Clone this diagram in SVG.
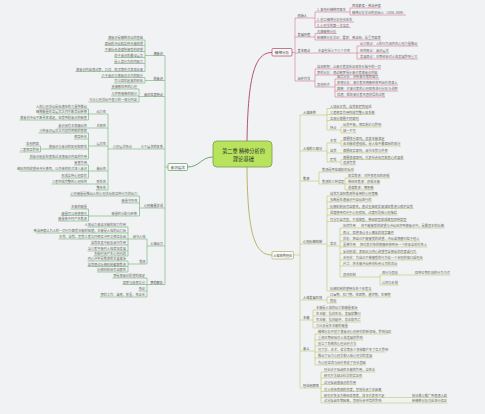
<svg xmlns="http://www.w3.org/2000/svg" width="485" height="414" viewBox="0 0 485 414">
<style>
text{font-family:"Noto Sans CJK SC","Noto Sans",sans-serif;font-size:3.2px;fill:#6a6a6a}
.e{text-anchor:end}
.m{text-anchor:middle}
.k{fill:#4d4d4d}
.b1{font-size:3.6px;fill:#444}
.c{font-size:5.2px;fill:#2f2f2f}
.g,.r,.o{fill:none;stroke-width:.6}
.g{stroke:#6fae6f}
.r{stroke:#d27a92}
.o{stroke:#bec66c}
.box{fill:#fafafa;stroke-width:.7}
</style>
<rect width="485" height="414" fill="#f1f2f4"/>
<g id="connectors">
<path d="M187.5,167 C200,167 201,157 213,157" stroke="#5d9f5d" stroke-width=".9" fill="none"/>
<path d="M247,141 C248,75 255,52.5 272,52.5" stroke="#a8455f" stroke-width=".9" fill="none"/>
<path d="M247,167 C247.5,235 255,255 272,255" stroke="#b2ae5a" stroke-width=".9" fill="none"/>
<path class="g" d="M165,55.5V284.5 M165,167H168
M145,55.5H165 M145,40V71.5 M107.5,40H145 M104.5,45.5H145 M104.5,51.5H145 M114,57.5H145 M114,63.5H145 M75.5,71.5H145
M145,80.5H165 M145,77.5V83 M101,77.5H145 M114,83H145
M139,96.5H165 M139,89V102 M111,89H139 M111,96H139 M88.5,102H139
M108,149H165 M108,114V190
M88.5,114H108 M88.5,109V120 M38.5,109H88.5 M38.5,114H88.5 M19.5,120H88.5
M57.5,128H108
M88.5,146H108 M88.5,133V159 M38.5,133H88.5 M74,139H88.5 M40.5,149H88.5 M40.5,146V152 M26,146H40.5 M19.5,152H40.5 M29,159H88.5
M88.5,171H108 M88.5,165V178 M74,165H88.5 M19.5,171H88.5 M61,178H88.5
M51.5,184H108
M96,190H108
M139.5,208H165 M139.5,196V216 M70,196H139.5 M121,203H139.5 M88.5,216H139.5 M88.5,209V221 M70.5,209H88.5 M61,215.5H88.5 M58,221H88.5
M147,246H165 M147,239V264 M128,239H147 M128,227V256 M87.5,227H128 M36,233H128 M58.5,239H128 M90.5,245H128 M87.5,251H128 M93.5,256H128 M128,264H147 M128,261V272 M87.5,261H128 M87.5,266.5H128 M97,272H128
M147,284.5H165 M147,278V297 M112.5,278H147 M122.5,284.5H147 M138.5,291H147 M100,297H147"/>
<path class="r" d="M292,52.5H295 M295,18V81
M295,18H315 M315,12V27.5 M315,12H350 M350,8V15 M350,8H381 M350,15H406 M315,22H354 M315,27.5H350.5
M295,37H315 M315,33.5V40 M315,33.5H336.5 M315,40H381
M295,53H357 M357,46V59 M357,46H418 M357,53H389 M357,59H418
M295,81H315 M315,69V87 M315,69H381 M315,75H378 M315,87H335 M335,79V97 M335,79H379 M335,85H398 M335,91H398 M335,97H385"/>
<path class="o" d="M293.5,255H300 M300,115V388
M300,115H327 M327,108.5V130 M327,108.5H369 M327,114.5H375 M327,120.5H359 M327,130H341 M341,127V133 M341,127H381.5 M341,133H356
M300,151H327 M327,143V162 M327,143H341 M341,140.5V146 M341,140.5H385 M341,146H401 M327,153H388 M327,162H341 M341,159.5V165 M341,159.5H404 M341,165H356
M300,181H319 M319,172V184 M319,172H354 M319,184H345 M345,178V190 M345,178H390 M345,184H380 M345,190H374
M300,244H327 M327,196V291 M327,196H378 M327,202H372 M327,208.5H413.5 M327,215H397.5 M327,221.5H407 M327,246H340 M340,228V277 M340,228H444.5 M340,234.5H394.5 M340,241H420 M340,247H427.5 M340,253.5H417 M340,260H423 M340,266H397.5 M340,277H380 M380,275V285 M380,275H450.5 M380,285H398.5 M327,291H372
M300,300H327 M327,297V303 M327,297H391 M327,303H337
M300,320H313 M313,310V328 M313,310H358 M313,316H361 M313,322H361 M313,328H348
M300,351H315 M315,334V365 M315,334H388.5 M315,340H363 M315,346H356.5 M315,352H385.5 M315,358H372.5 M315,365H366
M300,388H321 M321,372V403 M321,372H375.5 M321,378H362.5 M321,384.5H356 M321,391.5H382 M321,397.5H447.5 M321,403H447.5"/>
</g>
<g id="center">
<rect x="213" y="141" width="59" height="26" rx="4" fill="#b7e35d" stroke="#7f9a50" stroke-width=".8"/>
<text class="c m" x="243.5" y="152.5">第二章 精神分析的</text>
<text class="c m" x="243.5" y="161">理论基础</text>
</g>
<g id="node-left">
<rect class="box" x="168" y="163.5" width="19.5" height="7" rx="1" stroke="#5d9f5d"/>
<text class="b1 m" x="177.75" y="168.5">意识层次</text>
<g id="left-a">
<text class="e k" x="163" y="54.5">潜意识</text>
<text class="e" x="143" y="39">潜意识是精神活动的基础</text>
<text class="e" x="143" y="44.5">原始的冲动和各种本能欲望</text>
<text class="e" x="143" y="50.5">不被社会道德所接受的欲望</text>
<text class="e" x="143" y="56.5">处于意识的最深层次</text>
<text class="e" x="143" y="62.5">是人类行为的内驱力</text>
<text class="e" x="143" y="70.5">潜意识内容通过梦、口误、笔误等形式表现出来</text>
</g>
<g id="left-b">
<text class="e k" x="163" y="79.5">前意识</text>
<text class="e" x="143" y="76.5">介于意识与潜意识之间的部分</text>
<text class="e" x="143" y="82">可以回忆起来的经验</text>
</g>
<g id="left-c">
<text class="e k" x="163" y="95.5">意识及其特点</text>
<text class="e" x="137" y="88">直接感知到的心理</text>
<text class="e" x="137" y="95">与外界接触的部分</text>
<text class="e" x="137" y="101">只占心理活动中很小的一部分内容</text>
</g>
<g id="left-d">
<text class="e k" x="163" y="148">三个层次的关系</text>
<text class="e" x="132" y="148">心理层次特点</text>
<text class="e" x="106" y="113">动力性</text>
<text class="e" x="106" y="127">主观性</text>
<text class="e" x="106" y="145">层次性</text>
<text class="e" x="106" y="170">能动性</text>
<text class="e" x="106" y="183">联系性</text>
<text class="e" x="106" y="189">整体性</text>
<text class="e" x="87" y="108">人的心理活动是由潜在的力量所推动</text>
<text class="e" x="87" y="113">精神能量在各层次之间不断流动转换</text>
<text class="e" x="87" y="119">潜意识冲动不断寻求满足，但受到前意识的审查</text>
<text class="e" x="87" y="127">意识具有主观能动性</text>
<text class="e" x="87" y="132">三种意识层次之间没有明确的界限</text>
<text class="e" x="87" y="138">相互转化</text>
<text class="e" x="87" y="148">潜意识与意识的区别和联系</text>
<text class="e" x="39" y="145">区别明显</text>
<text class="e" x="39" y="151">二者相互影响</text>
<text class="e" x="87" y="158">前意识起着检查和过滤潜意识内容的作用</text>
<text class="e" x="87" y="164">审查作用</text>
<text class="e" x="87" y="170">被压抑的欲望会改头换面，以伪装的形式进入意识</text>
<text class="e" x="87" y="177">形成各种心理症状</text>
<text class="e" x="87" y="183">三者构成完整的心理结构</text>
</g>
<g id="left-e">
<text class="e k" x="163" y="207">心理能量学说</text>
<text class="e" x="137.5" y="195">心理能量是推动人的心理活动和各种行为的动力</text>
<text class="e" x="137.5" y="202">能量守恒性</text>
<text class="e" x="137" y="215">能量的分配与转换</text>
<text class="e" x="87" y="208">本能的能量</text>
<text class="e" x="87" y="214.5">能量可以转移替代</text>
<text class="e" x="87" y="220">能量集中时产生焦虑</text>
</g>
<g id="left-f">
<text class="e k" x="163" y="245">人格动力</text>
<text class="e" x="145.5" y="238">调节人格</text>
<text class="e" x="126" y="226">人格动力来自本能的驱力作用</text>
<text class="e" x="126" y="232">弗洛伊德认为人的一切行为都受本能的驱使，本能是人格的动力源</text>
<text class="e" x="126" y="238">本我、自我、超我三者之间相互冲突又相互协调</text>
<text class="e" x="126" y="244">自我在其中起着调节作用</text>
<text class="e" x="126" y="250">当三者平衡时人格健康发展</text>
<text class="e" x="126" y="255">失衡时会产生心理问题</text>
<text class="e" x="145.5" y="263">焦虑</text>
<text class="e" x="126" y="260">内心冲突是焦虑的主要来源</text>
<text class="e" x="126" y="265.5">自我通过防御机制缓解焦虑</text>
<text class="e" x="126" y="271">防御机制具有自欺性</text>
</g>
<g id="left-g">
<text class="e k" x="163" y="283.5">梦的解析</text>
<text class="e" x="145" y="277">梦是潜意识愿望的满足</text>
<text class="e" x="145" y="283.5">显梦与隐梦之分</text>
<text class="e" x="145" y="290">象征</text>
<text class="e" x="145" y="296">梦的工作：凝缩、移置、象征化</text>
</g>
</g>
<g id="node-top">
<rect class="box" x="272" y="48.5" width="20" height="7.5" rx="1" stroke="#a8455f"/>
<text class="b1 m" x="282" y="53.6">精神分析</text>
<g id="top-a">
<text class="k" x="297.5" y="17">创始人</text>
<text x="317" y="11">1. 奥地利精神病医生</text>
<text x="352" y="7">西格蒙德·弗洛伊德</text>
<text x="352" y="14">精神分析学派的创始人（1856-1939）</text>
<text x="317" y="21">2. 创立精神分析理论体系</text>
<text x="317" y="26.5">3. 心理学的第一次革命</text>
</g>
<g id="top-b">
<text class="k" x="297.5" y="36">发展历程</text>
<text x="317" y="32.5">古典精神分析</text>
<text x="317" y="39">新精神分析学派：霍妮、弗洛姆、埃里克森等</text>
</g>
<g id="top-c">
<text class="k" x="297.5" y="52">基本观点</text>
<text x="318" y="52">主要包括以下三个方面</text>
<text x="360" y="45">动力观点：人的行为由内在心理力量推动</text>
<text x="360" y="52">结构观点：意识层次</text>
<text x="360" y="58">发展观点：早期经验对人格发展影响重大</text>
</g>
<g id="top-d">
<text class="k" x="297.5" y="80">治疗方法</text>
<text x="317" y="68">自由联想：让来访者报告出现在头脑中的一切</text>
<text x="317" y="74">梦的分析：通过释梦揭示来访者潜意识内容</text>
<text x="317" y="86">其他技术</text>
<text x="337" y="78">阻抗分析：识别来访者的阻抗</text>
<text x="337" y="84">移情分析：来访者将情感转移到治疗师身上</text>
<text x="337" y="90">解释：对来访者的心理现象进行分析与说明</text>
<text x="337" y="96">修通：帮助来访者巩固领悟的过程</text>
</g>
</g>
<g id="node-bottom">
<rect class="box" x="272" y="251.5" width="21.5" height="7.5" rx="1" stroke="#b2ae5a"/>
<text class="m" x="282.75" y="256.5" style="fill:#444">人格结构理论</text>
<g id="bot-a">
<text class="k" x="303" y="114">人格结构</text>
<text x="330" y="107.5">人格由本我、自我和超我组成</text>
<text x="330" y="113.5">三者相互作用构成完整人格系统</text>
<text x="330" y="119.5">各部分遵循不同原则</text>
<text x="330" y="129">特点</text>
<text x="343" y="126">动态平衡，相互制约与影响</text>
<text x="343" y="132">缺一不可</text>
</g>
<g id="bot-b">
<text class="k" x="303" y="150">人格的三部分</text>
<text x="330" y="142">本我</text>
<text x="330" y="152">自我</text>
<text x="330" y="161">超我</text>
<text x="343" y="139.5">遵循快乐原则，追求本能满足</text>
<text x="343" y="145">由本能欲望组成，是人格中最原始的部分</text>
<text x="343" y="152">遵循现实原则，调节本我与外界</text>
<text x="343" y="158.5">遵循道德原则，代表社会规范和良心的要求</text>
<text x="343" y="164">追求完美</text>
</g>
<g id="bot-c">
<text class="k" x="303" y="180">焦虑</text>
<text x="322" y="171">焦虑是面临威胁的反应</text>
<text x="322" y="183">焦虑的三种类型</text>
<text x="348" y="177">现实焦虑：对外界危险的恐惧</text>
<text x="348" y="183">神经性焦虑：恐惧本能</text>
<text x="348" y="189">道德焦虑：罪恶感</text>
</g>
<g id="bot-d">
<text class="k" x="303" y="243">心理防御机制</text>
<text x="330" y="195">自我为减轻焦虑所采用的心理策略</text>
<text x="330" y="201">多数是在潜意识中自动进行的</text>
<text x="330" y="207.5">防御机制具有自欺性，通过歪曲现实来减轻焦虑以保护自我</text>
<text x="330" y="214">适度使用有利于心理健康，过度则导致心理障碍</text>
<text x="330" y="220.5">可分为自恋型、不成熟型、神经症型和成熟型四种类型</text>
<text x="330" y="245">常见</text>
<text x="343" y="227">压抑作用</text>
<text x="361" y="227">将不能接受的欲望与冲动压抑到潜意识中，是最基本的防御</text>
<text x="343" y="233.5">否认：拒绝承认令人痛苦的现实事件</text>
<text x="343" y="240">投射：把自己不能接受的欲望、冲动或情感归咎于他人</text>
<text x="343" y="246">置换作用</text>
<text x="360" y="246">把对某对象的情感转移到另一个较安全的对象上</text>
<text x="343" y="252.5">反向形成：表现出与内心欲望完全相反的态度或行为</text>
<text x="343" y="259">合理化：为自己不被接受的行为找一个合理的借口或理由</text>
<text x="343" y="265">升华：将本能冲动转向社会认可的活动</text>
<text x="343" y="276">其他机制</text>
<text x="382" y="274">退行与固着</text>
<text x="415" y="274">回到早期阶段的行为方式</text>
<text x="382" y="284">认同与补偿</text>
<text x="330" y="290">防御机制的使用存在个体差异</text>
</g>
<g id="bot-e">
<text class="k" x="303" y="299">人格发展阶段</text>
<text x="330" y="296">口唇期、肛门期、性器期、潜伏期、生殖期</text>
<text x="330" y="302">固着</text>
</g>
<g id="bot-f">
<text class="k" x="303" y="319">本能</text>
<text x="316" y="309">本能是人格的动力和能量来源</text>
<text x="316" y="315">生本能：指向生存、发展和繁衍</text>
<text x="316" y="321">死本能：指向破坏、攻击和死亡</text>
<text x="316" y="327">力比多是生本能的能量</text>
</g>
<g id="bot-g">
<text class="k" x="303" y="350">意义</text>
<text x="318" y="333">精神分析开创了潜意识心理研究的新领域，影响深远</text>
<text x="318" y="339">重视早期经验对人格发展的影响</text>
<text x="318" y="345">创立了系统的心理治疗方法</text>
<text x="318" y="351">对文学、艺术、哲学等多个领域都产生了巨大影响</text>
<text x="318" y="357">推动了动力心理学和人格心理学的发展</text>
<text x="318" y="364">为心理咨询与治疗奠定了理论基础</text>
</g>
<g id="bot-h">
<text class="k" x="303" y="387">理论局限性</text>
<text x="324" y="371">理论过于强调性本能的作用，泛性论</text>
<text x="324" y="377">研究方法缺乏科学的实证性</text>
<text x="324" y="383.5">过分强调潜意识的作用</text>
<text x="324" y="390.5">对人性持悲观的态度，忽视社会文化因素</text>
<text x="324" y="396.5">研究对象多为神经症患者，样本代表性不足</text>
<text x="412" y="396.5">结论难以推广到普通人群</text>
<text x="324" y="402">过分强调生物因素，忽视社会环境的影响</text>
<text x="412" y="402">新精神分析对此进行修正</text>
</g>
</g>
</svg>
